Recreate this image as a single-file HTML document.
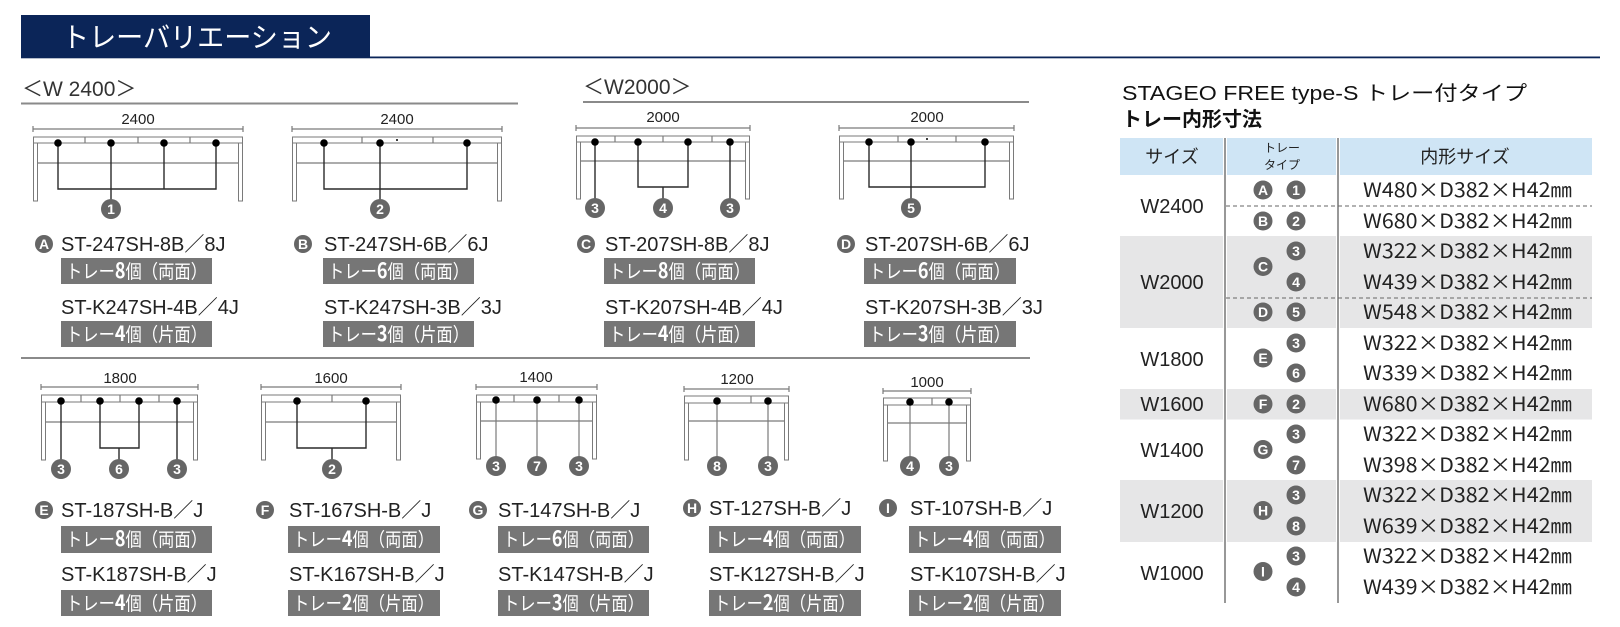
<!DOCTYPE html>
<html><head><meta charset="utf-8"><style>
html,body{margin:0;padding:0;background:#fff;}
svg{display:block;}
text{font-family:"Liberation Sans","Noto Sans CJK JP",sans-serif;}
.j{font-family:"Noto Sans CJK JP","Liberation Sans",sans-serif;}
.dim{font-size:15px;fill:#222;text-anchor:middle;}
.rail{fill:#fff;stroke:#7a7a7a;stroke-width:1;}
.ln{stroke:#7a7a7a;stroke-width:1.2;fill:none;}
.ld{stroke:#2a2a2a;stroke-width:1.4;fill:none;}
.cn{fill:#666;}
.ct{fill:#fff;font-size:14px;font-weight:bold;text-anchor:middle;}
.mt{font-size:20px;fill:#222;}
.bx{fill:#767676;}
.bt{fill:#fff;font-size:19px;}
.tb{font-size:20px;fill:#222;}
</style></head><body>
<svg width="1620" height="627" viewBox="0 0 1620 627" xmlns="http://www.w3.org/2000/svg">
<rect x="21" y="15" width="349" height="43" fill="#0b2558"/>
<rect x="21" y="56.5" width="1579" height="1.8" fill="#0b2558"/>
<text x="62" y="47" class="j" font-size="28" fill="#fff" textLength="270" lengthAdjust="spacingAndGlyphs">トレーバリエーション</text>

<text x="22" y="96" font-size="21" fill="#333">＜W 2400＞</text>
<rect x="21" y="102.5" width="497" height="2" fill="#8a8a8a"/>
<text x="583" y="94" font-size="21" fill="#333">＜W2000＞</text>
<rect x="583" y="101" width="446" height="2" fill="#8a8a8a"/>
<rect x="21" y="357" width="1009" height="2" fill="#8a8a8a"/>

<g>
<line x1="33" y1="129" x2="243" y2="129" class="ln" stroke-width="1"/><line x1="33" y1="126" x2="33" y2="132" class="ln"/><line x1="243" y1="126" x2="243" y2="132" class="ln"/>
<text x="138" y="124" class="dim">2400</text>
<rect x="33.5" y="143" width="4" height="58" class="rail"/><rect x="238.5" y="143" width="4" height="58" class="rail"/>
<rect x="33.5" y="137" width="209" height="6" class="rail"/>
<line x1="85" y1="137" x2="85" y2="143" class="ln"/><line x1="138" y1="137" x2="138" y2="143" class="ln"/><line x1="190" y1="137" x2="190" y2="143" class="ln"/>
<line x1="37.5" y1="163" x2="238.5" y2="163" class="ln"/>
<path d="M58 143V189H216V143M111 143V200M164 143V189" class="ld"/>
<circle cx="58" cy="143" r="3.8"/><circle cx="111" cy="143" r="3.8"/><circle cx="164" cy="143" r="3.8"/><circle cx="216" cy="143" r="3.8"/>
<circle cx="111" cy="209" r="10" class="cn"/><text x="111" y="214" class="ct">1</text>
</g>
<g>
<line x1="292" y1="129" x2="502" y2="129" class="ln" stroke-width="1"/><line x1="292" y1="126" x2="292" y2="132" class="ln"/><line x1="502" y1="126" x2="502" y2="132" class="ln"/>
<text x="397" y="124" class="dim">2400</text>
<rect x="292.5" y="143" width="4" height="58" class="rail"/><rect x="497.5" y="143" width="4" height="58" class="rail"/>
<rect x="292.5" y="137" width="209" height="6" class="rail"/>
<line x1="362" y1="137" x2="362" y2="143" class="ln"/><line x1="433" y1="137" x2="433" y2="143" class="ln"/><circle cx="397" cy="140" r="1"/>
<line x1="296.5" y1="163" x2="497.5" y2="163" class="ln"/>
<path d="M324 143V189H467V143M380 143V200" class="ld"/>
<circle cx="324" cy="143" r="3.8"/><circle cx="380" cy="143" r="3.8"/><circle cx="467" cy="143" r="3.8"/>
<circle cx="380" cy="209" r="10" class="cn"/><text x="380" y="214" class="ct">2</text>
</g>
<g>
<line x1="576" y1="128" x2="750" y2="128" class="ln" stroke-width="1"/><line x1="576" y1="125" x2="576" y2="131" class="ln"/><line x1="750" y1="125" x2="750" y2="131" class="ln"/>
<text x="663" y="122" class="dim">2000</text>
<rect x="576.5" y="142" width="4" height="57" class="rail"/><rect x="745.5" y="142" width="4" height="57" class="rail"/>
<rect x="576.5" y="136" width="173" height="6" class="rail"/>
<line x1="615" y1="136" x2="615" y2="142" class="ln"/><line x1="663" y1="136" x2="663" y2="142" class="ln"/><line x1="712" y1="136" x2="712" y2="142" class="ln"/>
<line x1="580.5" y1="161" x2="745.5" y2="161" class="ln"/>
<path d="M595 142V199M730 142V199M638 142V187H688V142M663 187V199" class="ld"/>
<circle cx="595" cy="142" r="3.8"/><circle cx="638" cy="142" r="3.8"/><circle cx="688" cy="142" r="3.8"/><circle cx="730" cy="142" r="3.8"/>
<circle cx="595" cy="208" r="10" class="cn"/><text x="595" y="213" class="ct">3</text>
<circle cx="663" cy="208" r="10" class="cn"/><text x="663" y="213" class="ct">4</text>
<circle cx="730" cy="208" r="10" class="cn"/><text x="730" y="213" class="ct">3</text>
</g>
<g>
<line x1="839" y1="128" x2="1014" y2="128" class="ln" stroke-width="1"/><line x1="839" y1="125" x2="839" y2="131" class="ln"/><line x1="1014" y1="125" x2="1014" y2="131" class="ln"/>
<text x="927" y="122" class="dim">2000</text>
<rect x="839.5" y="142" width="4" height="57" class="rail"/><rect x="1009.5" y="142" width="4" height="57" class="rail"/>
<rect x="839.5" y="136" width="174" height="6" class="rail"/>
<line x1="898" y1="136" x2="898" y2="142" class="ln"/><line x1="956" y1="136" x2="956" y2="142" class="ln"/><circle cx="927" cy="139" r="1"/>
<line x1="843.5" y1="161" x2="1009.5" y2="161" class="ln"/>
<path d="M869 142V187H985V142M911 142V199" class="ld"/>
<circle cx="869" cy="142" r="3.8"/><circle cx="911" cy="142" r="3.8"/><circle cx="985" cy="142" r="3.8"/>
<circle cx="911" cy="208" r="10" class="cn"/><text x="911" y="213" class="ct">5</text>
</g>

<g>
<line x1="41" y1="387" x2="198" y2="387" class="ln" stroke-width="1"/><line x1="41" y1="384" x2="41" y2="390" class="ln"/><line x1="198" y1="384" x2="198" y2="390" class="ln"/>
<text x="120" y="383" class="dim">1800</text>
<rect x="41.5" y="402" width="4" height="58" class="rail"/><rect x="193.5" y="402" width="4" height="58" class="rail"/>
<rect x="41.5" y="395" width="156" height="7" class="rail"/>
<line x1="81" y1="395" x2="81" y2="402" class="ln"/><line x1="120" y1="395" x2="120" y2="402" class="ln"/><line x1="159" y1="395" x2="159" y2="402" class="ln"/>
<line x1="45.5" y1="422" x2="193.5" y2="422" class="ln"/>
<path d="M61 401V460M177 401V460M100 401V448H139V401M119 448V460" class="ld"/>
<circle cx="61" cy="401" r="3.8"/><circle cx="100" cy="401" r="3.8"/><circle cx="139" cy="401" r="3.8"/><circle cx="177" cy="401" r="3.8"/>
<circle cx="61" cy="469" r="10" class="cn"/><text x="61" y="474" class="ct">3</text>
<circle cx="119" cy="469" r="10" class="cn"/><text x="119" y="474" class="ct">6</text>
<circle cx="177" cy="469" r="10" class="cn"/><text x="177" y="474" class="ct">3</text>
</g>
<g>
<line x1="261" y1="387" x2="401" y2="387" class="ln" stroke-width="1"/><line x1="261" y1="384" x2="261" y2="390" class="ln"/><line x1="401" y1="384" x2="401" y2="390" class="ln"/>
<text x="331" y="383" class="dim">1600</text>
<rect x="261.5" y="402" width="4" height="58" class="rail"/><rect x="396.5" y="402" width="4" height="58" class="rail"/>
<rect x="261.5" y="395" width="139" height="7" class="rail"/>
<line x1="332" y1="395" x2="332" y2="402" class="ln"/>
<line x1="265.5" y1="422" x2="396.5" y2="422" class="ln"/>
<path d="M297 401V448H366V401M332 448V460" class="ld"/>
<circle cx="297" cy="401" r="3.8"/><circle cx="366" cy="401" r="3.8"/>
<circle cx="332" cy="469" r="10" class="cn"/><text x="332" y="474" class="ct">2</text>
</g>
<g>
<line x1="476" y1="387" x2="597" y2="387" class="ln" stroke-width="1"/><line x1="476" y1="384" x2="476" y2="390" class="ln"/><line x1="597" y1="384" x2="597" y2="390" class="ln"/>
<text x="536" y="382" class="dim">1400</text>
<rect x="476.5" y="402" width="4" height="57" class="rail"/><rect x="592.5" y="402" width="4" height="57" class="rail"/>
<rect x="476.5" y="395" width="120" height="7" class="rail"/>
<line x1="514" y1="395" x2="514" y2="402" class="ln"/><line x1="559" y1="395" x2="559" y2="402" class="ln"/>
<line x1="480.5" y1="421" x2="592.5" y2="421" class="ln"/>
<path d="M496 400V457M537 400V457M579 400V457" class="ln" stroke="#555"/>
<circle cx="496" cy="400" r="3.8"/><circle cx="537" cy="400" r="3.8"/><circle cx="579" cy="400" r="3.8"/>
<circle cx="496" cy="466" r="10" class="cn"/><text x="496" y="471" class="ct">3</text>
<circle cx="537" cy="466" r="10" class="cn"/><text x="537" y="471" class="ct">7</text>
<circle cx="579" cy="466" r="10" class="cn"/><text x="579" y="471" class="ct">3</text>
</g>
<g>
<line x1="684" y1="389" x2="789" y2="389" class="ln" stroke-width="1"/><line x1="684" y1="386" x2="684" y2="392" class="ln"/><line x1="789" y1="386" x2="789" y2="392" class="ln"/>
<text x="737" y="384" class="dim">1200</text>
<rect x="684.5" y="403" width="4" height="57" class="rail"/><rect x="784.5" y="403" width="4" height="57" class="rail"/>
<rect x="684.5" y="396" width="104" height="7" class="rail"/>
<line x1="751" y1="396" x2="751" y2="403" class="ln"/>
<line x1="688.5" y1="421" x2="784.5" y2="421" class="ln"/>
<path d="M717 401V457M768 401V457" class="ln" stroke="#555"/>
<circle cx="717" cy="401" r="3.8"/><circle cx="768" cy="401" r="3.8"/>
<circle cx="717" cy="466" r="10" class="cn"/><text x="717" y="471" class="ct">8</text>
<circle cx="768" cy="466" r="10" class="cn"/><text x="768" y="471" class="ct">3</text>
</g>
<g>
<line x1="883" y1="391" x2="971" y2="391" class="ln" stroke-width="1"/><line x1="883" y1="388" x2="883" y2="394" class="ln"/><line x1="971" y1="388" x2="971" y2="394" class="ln"/>
<text x="927" y="387" class="dim">1000</text>
<rect x="883.5" y="405" width="4" height="56" class="rail"/><rect x="966.5" y="405" width="4" height="56" class="rail"/>
<rect x="883.5" y="398" width="87" height="7" class="rail"/>
<line x1="932" y1="398" x2="932" y2="405" class="ln"/>
<line x1="887.5" y1="423" x2="966.5" y2="423" class="ln"/>
<path d="M910 402V457M949 402V457" class="ln" stroke="#555"/>
<circle cx="910" cy="402" r="3.8"/><circle cx="949" cy="402" r="3.8"/>
<circle cx="910" cy="466" r="10" class="cn"/><text x="910" y="471" class="ct">4</text>
<circle cx="949" cy="466" r="10" class="cn"/><text x="949" y="471" class="ct">3</text>
</g>

<g>
<circle cx="44" cy="244" r="9" class="cn"/><text x="44" y="249" class="ct">A</text>
<text x="61" y="251" class="mt">ST-247SH-8B／8J</text>
<rect x="61" y="258" width="151" height="26" class="bx"/>
<text x="66" y="278" class="bt j" textLength="141" lengthAdjust="spacingAndGlyphs">トレー<tspan font-weight="bold" font-size="21">8</tspan>個（両面）</text>
<text x="61" y="314" class="mt">ST-K247SH-4B／4J</text>
<rect x="61" y="321" width="151" height="26" class="bx"/>
<text x="66" y="341" class="bt j" textLength="141" lengthAdjust="spacingAndGlyphs">トレー<tspan font-weight="bold" font-size="21">4</tspan>個（片面）</text>

<circle cx="303" cy="244" r="9" class="cn"/><text x="303" y="249" class="ct">B</text>
<text x="324" y="251" class="mt">ST-247SH-6B／6J</text>
<rect x="323" y="258" width="151" height="26" class="bx"/>
<text x="328" y="278" class="bt j" textLength="141" lengthAdjust="spacingAndGlyphs">トレー<tspan font-weight="bold" font-size="21">6</tspan>個（両面）</text>
<text x="324" y="314" class="mt">ST-K247SH-3B／3J</text>
<rect x="323" y="321" width="151" height="26" class="bx"/>
<text x="328" y="341" class="bt j" textLength="141" lengthAdjust="spacingAndGlyphs">トレー<tspan font-weight="bold" font-size="21">3</tspan>個（片面）</text>

<circle cx="586" cy="244" r="9" class="cn"/><text x="586" y="249" class="ct">C</text>
<text x="605" y="251" class="mt">ST-207SH-8B／8J</text>
<rect x="604" y="258" width="151" height="26" class="bx"/>
<text x="609" y="278" class="bt j" textLength="141" lengthAdjust="spacingAndGlyphs">トレー<tspan font-weight="bold" font-size="21">8</tspan>個（両面）</text>
<text x="605" y="314" class="mt">ST-K207SH-4B／4J</text>
<rect x="604" y="321" width="151" height="26" class="bx"/>
<text x="609" y="341" class="bt j" textLength="141" lengthAdjust="spacingAndGlyphs">トレー<tspan font-weight="bold" font-size="21">4</tspan>個（片面）</text>

<circle cx="846" cy="244" r="9" class="cn"/><text x="846" y="249" class="ct">D</text>
<text x="865" y="251" class="mt">ST-207SH-6B／6J</text>
<rect x="864" y="258" width="152" height="26" class="bx"/>
<text x="869" y="278" class="bt j" textLength="141" lengthAdjust="spacingAndGlyphs">トレー<tspan font-weight="bold" font-size="21">6</tspan>個（両面）</text>
<text x="865" y="314" class="mt">ST-K207SH-3B／3J</text>
<rect x="864" y="321" width="152" height="26" class="bx"/>
<text x="869" y="341" class="bt j" textLength="141" lengthAdjust="spacingAndGlyphs">トレー<tspan font-weight="bold" font-size="21">3</tspan>個（片面）</text>
</g>

<g>
<circle cx="44" cy="510" r="9" class="cn"/><text x="44" y="515" class="ct">E</text>
<text x="61" y="517" class="mt">ST-187SH-B／J</text>
<rect x="61" y="526" width="151" height="27" class="bx"/>
<text x="66" y="546" class="bt j" textLength="141" lengthAdjust="spacingAndGlyphs">トレー<tspan font-weight="bold" font-size="21">8</tspan>個（両面）</text>
<text x="61" y="581" class="mt">ST-K187SH-B／J</text>
<rect x="61" y="590" width="151" height="26" class="bx"/>
<text x="66" y="610" class="bt j" textLength="141" lengthAdjust="spacingAndGlyphs">トレー<tspan font-weight="bold" font-size="21">4</tspan>個（片面）</text>

<circle cx="265" cy="510" r="9" class="cn"/><text x="265" y="515" class="ct">F</text>
<text x="289" y="517" class="mt">ST-167SH-B／J</text>
<rect x="288" y="526" width="152" height="27" class="bx"/>
<text x="293" y="546" class="bt j" textLength="141" lengthAdjust="spacingAndGlyphs">トレー<tspan font-weight="bold" font-size="21">4</tspan>個（両面）</text>
<text x="289" y="581" class="mt">ST-K167SH-B／J</text>
<rect x="288" y="590" width="152" height="26" class="bx"/>
<text x="293" y="610" class="bt j" textLength="141" lengthAdjust="spacingAndGlyphs">トレー<tspan font-weight="bold" font-size="21">2</tspan>個（片面）</text>

<circle cx="478" cy="510" r="9" class="cn"/><text x="478" y="515" class="ct">G</text>
<text x="498" y="517" class="mt">ST-147SH-B／J</text>
<rect x="498" y="526" width="151" height="27" class="bx"/>
<text x="503" y="546" class="bt j" textLength="141" lengthAdjust="spacingAndGlyphs">トレー<tspan font-weight="bold" font-size="21">6</tspan>個（両面）</text>
<text x="498" y="581" class="mt">ST-K147SH-B／J</text>
<rect x="498" y="590" width="151" height="26" class="bx"/>
<text x="503" y="610" class="bt j" textLength="141" lengthAdjust="spacingAndGlyphs">トレー<tspan font-weight="bold" font-size="21">3</tspan>個（片面）</text>

<circle cx="692" cy="508" r="9" class="cn"/><text x="692" y="513" class="ct">H</text>
<text x="709" y="515" class="mt">ST-127SH-B／J</text>
<rect x="709" y="526" width="152" height="27" class="bx"/>
<text x="714" y="546" class="bt j" textLength="141" lengthAdjust="spacingAndGlyphs">トレー<tspan font-weight="bold" font-size="21">4</tspan>個（両面）</text>
<text x="709" y="581" class="mt">ST-K127SH-B／J</text>
<rect x="709" y="590" width="152" height="26" class="bx"/>
<text x="714" y="610" class="bt j" textLength="141" lengthAdjust="spacingAndGlyphs">トレー<tspan font-weight="bold" font-size="21">2</tspan>個（片面）</text>

<circle cx="888" cy="508" r="9" class="cn"/><text x="888" y="513" class="ct">I</text>
<text x="910" y="515" class="mt">ST-107SH-B／J</text>
<rect x="909" y="526" width="152" height="27" class="bx"/>
<text x="914" y="546" class="bt j" textLength="141" lengthAdjust="spacingAndGlyphs">トレー<tspan font-weight="bold" font-size="21">4</tspan>個（両面）</text>
<text x="910" y="581" class="mt">ST-K107SH-B／J</text>
<rect x="909" y="590" width="152" height="26" class="bx"/>
<text x="914" y="610" class="bt j" textLength="141" lengthAdjust="spacingAndGlyphs">トレー<tspan font-weight="bold" font-size="21">2</tspan>個（片面）</text>
</g>

<text x="1122" y="100" font-size="20" fill="#111" textLength="405" lengthAdjust="spacingAndGlyphs">STAGEO FREE type-S トレー付タイプ</text>
<text x="1122" y="126" class="j" font-size="20" fill="#111" font-weight="bold">トレー内形寸法</text>
<rect x="1120" y="138" width="472" height="37" fill="#cfe5f5"/>
<rect x="1120" y="236" width="472" height="92" fill="#e6e6e7"/>
<rect x="1120" y="389" width="472" height="30.5" fill="#e6e6e7"/>
<rect x="1120" y="480" width="472" height="62" fill="#e6e6e7"/>
<rect x="1223" y="138" width="4" height="465" fill="#fff"/>
<rect x="1336" y="138" width="4" height="465" fill="#fff"/>
<line x1="1225" y1="138" x2="1225" y2="603" stroke="#777" stroke-width="1.5"/>
<line x1="1338" y1="138" x2="1338" y2="603" stroke="#777" stroke-width="1.5"/>
<line x1="1226" y1="206" x2="1592" y2="206" stroke="#666" stroke-width="1" stroke-dasharray="4,3"/>
<line x1="1226" y1="298" x2="1592" y2="298" stroke="#666" stroke-width="1" stroke-dasharray="4,3"/>
<text x="1172" y="163" class="j" font-size="18" fill="#222" text-anchor="middle">サイズ</text>
<text x="1282" y="152" class="j" font-size="12" fill="#222" text-anchor="middle">トレー</text>
<text x="1282" y="169" class="j" font-size="12" fill="#222" text-anchor="middle">タイプ</text>
<text x="1465" y="163" class="j" font-size="18" fill="#222" text-anchor="middle">内形サイズ</text>

<g>
<text x="1172" y="213" class="tb" text-anchor="middle">W2400</text>
<text x="1172" y="289" class="tb" text-anchor="middle">W2000</text>
<text x="1172" y="366" class="tb" text-anchor="middle">W1800</text>
<text x="1172" y="411" class="tb" text-anchor="middle">W1600</text>
<text x="1172" y="457" class="tb" text-anchor="middle">W1400</text>
<text x="1172" y="518" class="tb" text-anchor="middle">W1200</text>
<text x="1172" y="580" class="tb" text-anchor="middle">W1000</text>
</g>
<g>
<circle cx="1263" cy="190" r="9.5" class="cn"/><text x="1263" y="195" class="ct">A</text>
<circle cx="1263" cy="221" r="9.5" class="cn"/><text x="1263" y="226" class="ct">B</text>
<circle cx="1263" cy="266.5" r="9.5" class="cn"/><text x="1263" y="271.5" class="ct">C</text>
<circle cx="1263" cy="312" r="9.5" class="cn"/><text x="1263" y="317" class="ct">D</text>
<circle cx="1263" cy="358" r="9.5" class="cn"/><text x="1263" y="363" class="ct">E</text>
<circle cx="1263" cy="404" r="9.5" class="cn"/><text x="1263" y="409" class="ct">F</text>
<circle cx="1263" cy="449.5" r="9.5" class="cn"/><text x="1263" y="454.5" class="ct">G</text>
<circle cx="1263" cy="510.5" r="9.5" class="cn"/><text x="1263" y="515.5" class="ct">H</text>
<circle cx="1263" cy="571.5" r="9.5" class="cn"/><text x="1263" y="576.5" class="ct">I</text>

<circle cx="1296" cy="190" r="9.5" class="cn"/><text x="1296" y="195" class="ct">1</text>
<circle cx="1296" cy="221" r="9.5" class="cn"/><text x="1296" y="226" class="ct">2</text>
<circle cx="1296" cy="251" r="9.5" class="cn"/><text x="1296" y="256" class="ct">3</text>
<circle cx="1296" cy="282" r="9.5" class="cn"/><text x="1296" y="287" class="ct">4</text>
<circle cx="1296" cy="312" r="9.5" class="cn"/><text x="1296" y="317" class="ct">5</text>
<circle cx="1296" cy="343" r="9.5" class="cn"/><text x="1296" y="348" class="ct">3</text>
<circle cx="1296" cy="373" r="9.5" class="cn"/><text x="1296" y="378" class="ct">6</text>
<circle cx="1296" cy="404" r="9.5" class="cn"/><text x="1296" y="409" class="ct">2</text>
<circle cx="1296" cy="434" r="9.5" class="cn"/><text x="1296" y="439" class="ct">3</text>
<circle cx="1296" cy="465" r="9.5" class="cn"/><text x="1296" y="470" class="ct">7</text>
<circle cx="1296" cy="495" r="9.5" class="cn"/><text x="1296" y="500" class="ct">3</text>
<circle cx="1296" cy="526" r="9.5" class="cn"/><text x="1296" y="531" class="ct">8</text>
<circle cx="1296" cy="556" r="9.5" class="cn"/><text x="1296" y="561" class="ct">3</text>
<circle cx="1296" cy="587" r="9.5" class="cn"/><text x="1296" y="592" class="ct">4</text>
</g>
<g>
<text x="1363" y="197" class="tb j" textLength="209" lengthAdjust="spacingAndGlyphs">W480×D382×H42㎜</text>
<text x="1363" y="228" class="tb j" textLength="209" lengthAdjust="spacingAndGlyphs">W680×D382×H42㎜</text>
<text x="1363" y="258" class="tb j" textLength="209" lengthAdjust="spacingAndGlyphs">W322×D382×H42㎜</text>
<text x="1363" y="289" class="tb j" textLength="209" lengthAdjust="spacingAndGlyphs">W439×D382×H42㎜</text>
<text x="1363" y="319" class="tb j" textLength="209" lengthAdjust="spacingAndGlyphs">W548×D382×H42㎜</text>
<text x="1363" y="350" class="tb j" textLength="209" lengthAdjust="spacingAndGlyphs">W322×D382×H42㎜</text>
<text x="1363" y="380" class="tb j" textLength="209" lengthAdjust="spacingAndGlyphs">W339×D382×H42㎜</text>
<text x="1363" y="411" class="tb j" textLength="209" lengthAdjust="spacingAndGlyphs">W680×D382×H42㎜</text>
<text x="1363" y="441" class="tb j" textLength="209" lengthAdjust="spacingAndGlyphs">W322×D382×H42㎜</text>
<text x="1363" y="472" class="tb j" textLength="209" lengthAdjust="spacingAndGlyphs">W398×D382×H42㎜</text>
<text x="1363" y="502" class="tb j" textLength="209" lengthAdjust="spacingAndGlyphs">W322×D382×H42㎜</text>
<text x="1363" y="533" class="tb j" textLength="209" lengthAdjust="spacingAndGlyphs">W639×D382×H42㎜</text>
<text x="1363" y="563" class="tb j" textLength="209" lengthAdjust="spacingAndGlyphs">W322×D382×H42㎜</text>
<text x="1363" y="594" class="tb j" textLength="209" lengthAdjust="spacingAndGlyphs">W439×D382×H42㎜</text>
</g>
</svg>
</body></html>
